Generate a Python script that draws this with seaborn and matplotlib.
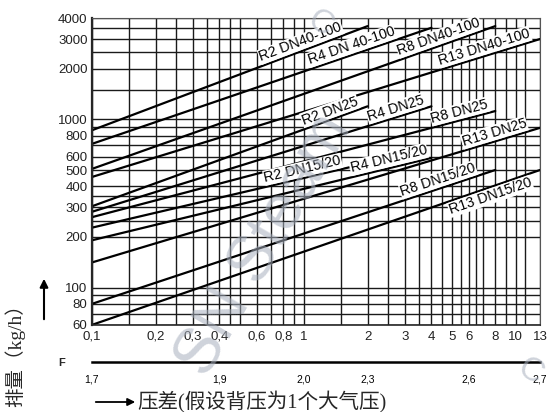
import numpy as np
import pandas as pd
import matplotlib
matplotlib.use('Agg')
import matplotlib.pyplot as plt
import seaborn as sns
from matplotlib.ticker import FixedLocator, NullFormatter, FixedFormatter

# series: start point at dp=0.1 bar and end point (max dp of each R rating)
series = ['R2 DN40-100', 'R4 DN 40-100', 'R8 DN40-100', 'R13 DN40-100',
          'R2 DN25', 'R4 DN25', 'R8 DN25', 'R13 DN25',
          'R2 DN15/20', 'R4 DN15/20', 'R8 DN15/20', 'R13 DN15/20']
dp_start = [0.1, 0.1, 0.1, 0.1, 0.1, 0.1, 0.1, 0.1, 0.1, 0.1, 0.1, 0.1]
flow_start = [860, 714, 507, 454, 304, 282, 262, 141, 227, 191, 80, 60]
dp_end = [2, 4, 8, 13, 2, 4, 8, 13, 2, 4, 8, 13]
flow_end = [3580, 3500, 3580, 3000, 1195, 1195, 1120, 890, 550, 590, 500, 500]

# axis ticks and grid
x_ticks = [0.1, 0.2, 0.3, 0.4, 0.6, 0.8, 1, 2, 3, 4, 5, 6, 8, 10, 13]
x_ticklabels = ['0,1', '0,2', '0,3', '0,4', '0,6', '0,8', '1', '2', '3', '4',
                '5', '6', '8', '10', '13']
y_ticks = [60, 80, 100, 200, 300, 400, 500, 600, 800, 1000, 2000, 3000, 4000]
x_grid = [0.15, 0.25, 0.35, 0.45, 0.5, 0.7, 0.9, 1.5, 2.5, 3.5, 4.5, 5.5,
          6.5, 7, 9, 11]
y_grid = [70, 90, 250, 350, 700, 900, 1500, 2500, 3500]

# F scale under the chart
f_pos = [0.1, 0.4, 1, 2, 6, 13]
f_labels = ['1,7', '1,9', '2,0', '2,3', '2,6', '2,7']

# label placement (x of label centre along each line, +1 above / -1 below)
label_x = [1.0, 1.73, 4.48, 7.3, 1.37, 2.79, 5.56, 8.13, 1.01, 2.57, 4.43, 7.36]
label_side = [1, 1, 1, 1, 1, 1, 1, 1, 1, 1, 1, -1]

sns.set_theme(style='white')
plt.rcParams['font.family'] = ['Liberation Sans', 'Noto Sans CJK SC']

rows = []
for i, name in enumerate(series):
    rows.append({'series': name, 'dp': dp_start[i], 'flow': flow_start[i]})
    rows.append({'series': name, 'dp': dp_end[i], 'flow': flow_end[i]})
df = pd.DataFrame(rows)

fig = plt.figure(figsize=(5.5, 4.12), dpi=100)
fig.patch.set_facecolor('white')
ax = fig.add_axes([0.1667, 0.2112, 0.8151, 0.7451])
ax.set_xscale('log')
ax.set_yscale('log')

sns.lineplot(data=df, x='dp', y='flow', units='series', estimator=None,
             color='black', lw=1.6, ax=ax, legend=False, zorder=3)

ax.set_xlim(0.1, 13)
ax.set_ylim(60, 4000)
ax.set_xlabel('')
ax.set_ylabel('')

ax.xaxis.set_major_locator(FixedLocator(x_ticks))
ax.xaxis.set_major_formatter(FixedFormatter(x_ticklabels))
ax.xaxis.set_minor_locator(FixedLocator(x_grid))
ax.xaxis.set_minor_formatter(NullFormatter())
ax.yaxis.set_major_locator(FixedLocator(y_ticks))
ax.yaxis.set_major_formatter(FixedFormatter([str(v) for v in y_ticks]))
ax.yaxis.set_minor_locator(FixedLocator(y_grid))
ax.yaxis.set_minor_formatter(NullFormatter())
ax.tick_params(which='both', length=0)
ax.tick_params(axis='x', labelsize=9.5, pad=4, colors='#222222')
ax.tick_params(axis='y', labelsize=9.5, pad=3, colors='#222222')
ax.grid(which='both', color='#1a1a1a', lw=1.0)

ax.spines['left'].set_linewidth(1.6)
ax.spines['bottom'].set_linewidth(1.2)
for s in ['top', 'right']:
    ax.spines[s].set_linewidth(0.8)
    ax.spines[s].set_color('#555555')
for s in ax.spines.values():
    s.set_zorder(4)

# line labels, rotated along each line
for i, name in enumerate(series):
    x0, x1 = dp_start[i], dp_end[i]
    y0, y1 = flow_start[i], flow_end[i]
    t = np.log(label_x[i] / x0) / np.log(x1 / x0)
    ly = y0 * (y1 / y0) ** t
    p0 = ax.transData.transform((x0, y0))
    p1 = ax.transData.transform((x1, y1))
    ang = np.arctan2(p1[1] - p0[1], p1[0] - p0[0])
    d = 1.2 * label_side[i]
    ax.annotate(name, (label_x[i], ly),
                xytext=(-d * np.sin(ang), d * np.cos(ang)),
                textcoords='offset points', rotation=np.degrees(ang),
                rotation_mode='anchor', ha='center',
                va='bottom' if label_side[i] > 0 else 'top',
                fontsize=10.3, color='black', zorder=5,
                bbox=dict(boxstyle='square,pad=0.05', fc='white', ec='none'))

# F scale
ax_f = fig.add_axes([0.1667, 0.1221, 0.8151, 0.001])
ax_f.set_xscale('log')
ax_f.set_xlim(0.1, 13)
ax_f.set_yticks([])
for s in ['top', 'right', 'left']:
    ax_f.spines[s].set_visible(False)
ax_f.spines['bottom'].set_linewidth(1.8)
ax_f.spines['bottom'].set_color('black')
ax_f.xaxis.set_major_locator(FixedLocator(f_pos))
ax_f.xaxis.set_major_formatter(FixedFormatter(f_labels))
ax_f.xaxis.set_minor_locator(FixedLocator([]))
ax_f.tick_params(axis='x', direction='out', length=4.5, width=1.6,
                 labelsize=7.5, pad=5, colors='black')
ax_f.patch.set_alpha(0)
fig.text(61.7 / 550, 1 - 363 / 412, 'F', fontsize=8, weight='bold',
         ha='center', va='center')

# axis titles with arrows
fig.text(15 / 550, 1 - 351 / 412, '排量（kg/h）', rotation=90,
         ha='center', va='center', fontsize=14,
         family=['Liberation Serif', 'Noto Sans CJK SC'])
ax.annotate('', xy=(44 / 550, 1 - 276 / 412), xytext=(44 / 550, 1 - 322 / 412),
            xycoords='figure fraction', textcoords='figure fraction',
            arrowprops=dict(arrowstyle='-|>', color='black', lw=1.5,
                            mutation_scale=12))
ax.annotate('', xy=(138 / 550, 1 - 402 / 412), xytext=(93 / 550, 1 - 402 / 412),
            xycoords='figure fraction', textcoords='figure fraction',
            arrowprops=dict(arrowstyle='-|>', color='black', lw=1.3,
                            mutation_scale=11))
fig.text(137 / 550, 1 - 402 / 412, '压差(假设背压为1个大气压)',
         ha='left', va='center', fontsize=14.8,
         family=['Liberation Serif', 'Noto Sans CJK SC'])

# watermark
fig.text(265 / 550, 1 - 245 / 412, 'SN Steam', rotation=60, fontsize=46,
         color='#a7afbd', alpha=0.55, ha='center', va='center', zorder=10)
fig.text(320 / 550, 1 - 24 / 412, 'C', rotation=-30, fontsize=24,
         color='#a7afbd', alpha=0.55, ha='center', va='center', zorder=10)
fig.text(530 / 550, 1 - 372 / 412, 'C', rotation=-30, fontsize=24,
         color='#a7afbd', alpha=0.55, ha='center', va='center', zorder=10)

fig.savefig('out.png', dpi=100)
